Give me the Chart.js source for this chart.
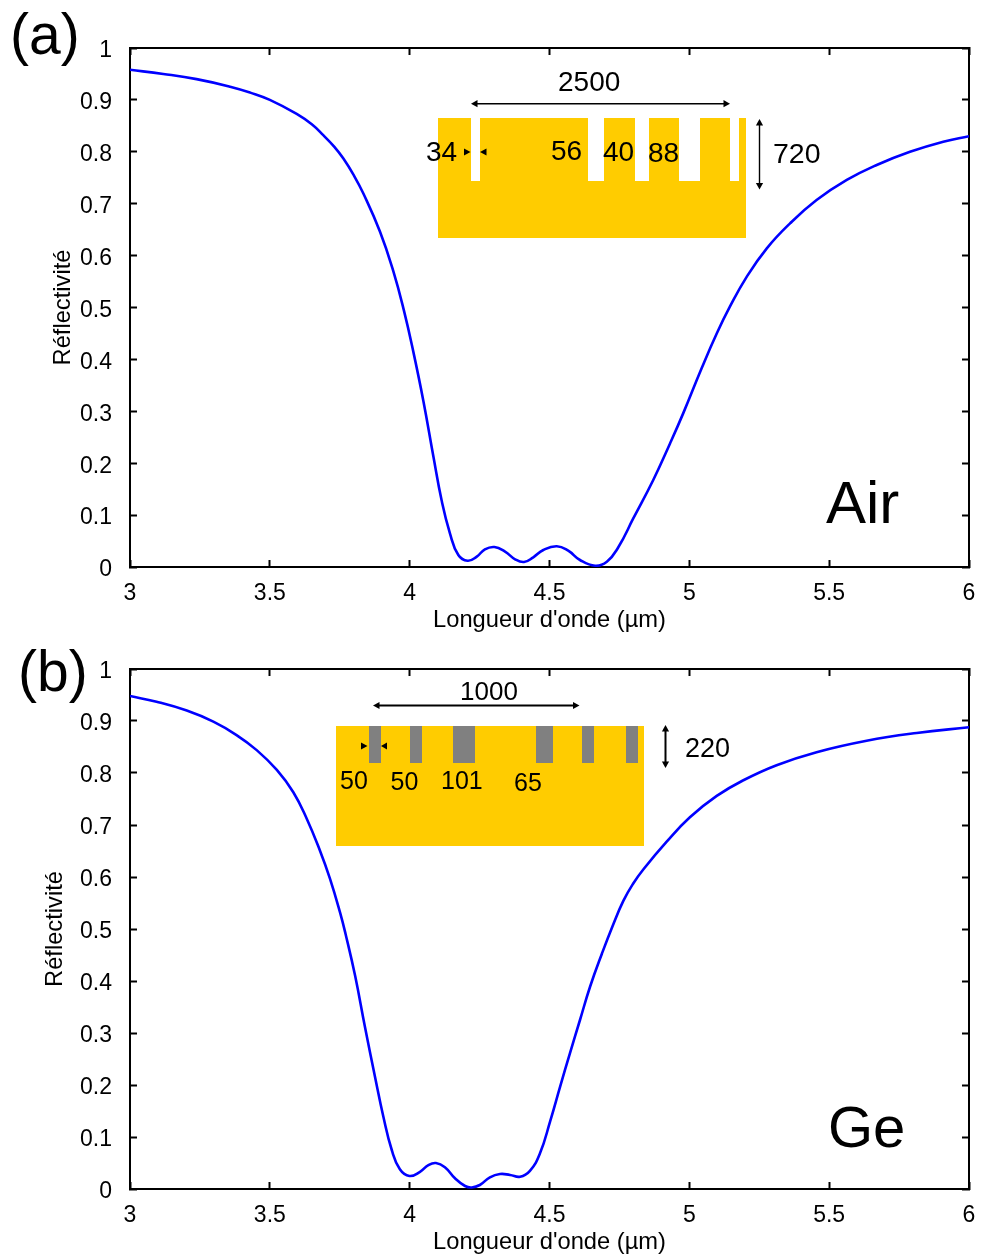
<!DOCTYPE html>
<html><head><meta charset="utf-8">
<style>html,body{margin:0;padding:0;background:#fff}canvas{position:absolute;left:0;display:block}</style>
<script src="https://cdn.jsdelivr.net/npm/chart.js@4"></script></head>
<body>
<canvas id="a" width="981" height="640" style="top:0"></canvas>
<canvas id="b" width="981" height="617" style="top:640px"></canvas>
<script>
const xTickValues=[3,3.5,4,4.5,5,5.5,6];
const xAxisTitle="Longueur d'onde (µm)";
const yAxisTitle="Réflectivité";
const xAir=[3,3.119,3.238,3.358,3.43,3.5,3.596,3.65,3.691,3.73,3.763,3.8,3.834,3.894,3.941,3.98,4.013,4.049,4.085,4.114,4.144,4.174,4.207,4.24,4.269,4.303,4.341,4.377,4.409,4.442,4.478,4.526,4.567,4.609,4.663,4.705,4.746,4.8,4.871,4.931,4.978,5.044,5.098,5.145,5.205,5.277,5.36,5.455,5.563,5.67,5.789,5.908,6];
const yAir=[.958,.95,.94,.9255,.914,.9,.873,.853,.832,.81,.787,.755,.72,.646,.571,.493,.415,.32,.2125,.129,.065,.023,.012,.02,.034,.0385,.0296,.0148,.0096,.0187,.0328,.04,.0314,.0135,.0025,.0102,.038,.094,.1676,.238,.296,.383,.45,.5015,.559,.614,.662,.707,.7457,.7746,.8,.8195,.83];
const xGe=[3,3.095,3.203,3.298,3.381,3.453,3.525,3.584,3.632,3.679,3.715,3.751,3.771,3.805,3.84,3.876,3.906,3.936,3.965,3.999,4.037,4.067,4.094,4.126,4.162,4.198,4.222,4.251,4.287,4.323,4.359,4.395,4.43,4.466,4.502,4.538,4.573,4.609,4.645,4.687,4.725,4.764,4.8,4.836,4.919,5.002,5.098,5.193,5.312,5.455,5.634,5.813,6];
const yGe=[.948,.937,.92,.8987,.873,.844,.806,.763,.712,.651,.597,.532,.49,.41,.312,.216,.139,.075,.038,.025,.033,.046,.05,.042,.0206,.0058,.003,.0077,.0225,.0288,.027,.0237,.035,.0686,.1295,.1967,.261,.325,.389,.452,.505,.554,.588,.615,.668,.715,.756,.786,.815,.84,.862,.877,.888];
const FONT='"Liberation Sans", Arial, sans-serif';
const TICK=23, TITLE=23.7;

function inset(cfg){return {id:'inset',afterDraw(chart){
  const c=chart.ctx;c.save();c.translate(0,-cfg.top);
  const r=cfg.rect;
  c.fillStyle='#ffcc00';c.fillRect(r[0],r[1],r[2]-r[0],r[3]-r[1]);
  c.fillStyle=cfg.slotColor;
  cfg.slots.forEach(s=>c.fillRect(s[0],r[1],s[1]-s[0],cfg.slotBottom-r[1]));
  c.strokeStyle='#000';c.fillStyle='#000';c.lineWidth=cfg.arrowWidth;
  const head=(x,y,dx,dy)=>{c.beginPath();c.moveTo(x,y);c.lineTo(x+dx*6.5+dy*3.6,y+dy*6.5+dx*3.6);c.lineTo(x+dx*6.5-dy*3.6,y+dy*6.5-dx*3.6);c.closePath();c.fill();};
  const dbl=(x1,y1,x2,y2)=>{const h=x1===x2;c.beginPath();c.moveTo(x1+(h?0:3),y1+(h?3:0));c.lineTo(x2-(h?0:3),y2-(h?3:0));c.stroke();
    head(x1,y1,h?0:1,h?1:0);head(x2,y2,h?0:-1,h?-1:0);};
  cfg.arrows.forEach(a=>dbl(...a));
  cfg.tris.forEach(t=>{c.beginPath();c.moveTo(t[0],t[1]-3.5);c.lineTo(t[0],t[1]+3.5);c.lineTo(t[2],t[1]);c.closePath();c.fill();});
  c.textAlign='left';c.textBaseline='alphabetic';
  cfg.texts.forEach(t=>{c.font=t[3]+'px '+FONT;c.fillText(t[0],t[1],t[2]);});
  c.restore();
}};}

const noPad=s=>{s.paddingLeft=s.paddingRight=s.paddingTop=s.paddingBottom=0;};
function make(id,xs,ys,geo,ins){
  const pts=xs.map((x,i)=>({x,y:ys[i]}));
  const chart=new Chart(document.getElementById(id),{
    type:'line',
    data:{datasets:[{data:pts,borderColor:'#0000ff',borderWidth:2.6,pointRadius:0,tension:.45,fill:false}]},
    plugins:[inset(ins)],
    options:{
      responsive:false,animation:false,devicePixelRatio:1,
      layout:{padding:{left:0,right:12,top:geo.top,bottom:0}},
      plugins:{legend:{display:false},tooltip:{enabled:false},title:{display:false}},
      scales:{
        x:{type:'linear',position:'bottom',min:3,max:6,
          afterBuildTicks:s=>{s.ticks=xTickValues.map(v=>({value:v}));},
          afterFit:s=>{s.height=geo.xh;noPad(s);},
          border:{color:'#000',width:2},
          grid:{drawOnChartArea:false,drawTicks:true,tickLength:-7,tickWidth:2,tickColor:'#000'},
          ticks:{color:'#000',font:{family:FONT,size:TICK},padding:20,maxRotation:0,autoSkip:false,callback:v=>String(v)},
          title:{display:true,text:xAxisTitle,color:'#000',font:{family:FONT,size:TITLE},padding:{top:0,bottom:geo.xpad}}},
        xTop:{type:'linear',position:'top',min:3,max:6,
          afterBuildTicks:s=>{s.ticks=xTickValues.map(v=>({value:v}));},
          afterFit:s=>{s.height=0;noPad(s);},
          border:{color:'#000',width:2},
          grid:{drawOnChartArea:false,drawTicks:true,tickLength:-7,tickWidth:2,tickColor:'#000'},
          ticks:{display:false}},
        y:{type:'linear',position:'left',min:0,max:1,
          afterFit:s=>{s.width=130;noPad(s);},
          border:{color:'#000',width:2},
          grid:{drawOnChartArea:false,drawTicks:true,tickLength:-7,tickWidth:2,tickColor:'#000'},
          ticks:{color:'#000',font:{family:FONT,size:TICK},padding:25,stepSize:.1,autoSkip:false,callback:v=>String(+v.toFixed(1))},
          title:{display:true,text:yAxisTitle,color:'#000',font:{family:FONT,size:TITLE},padding:{top:geo.ypad,bottom:0}}},
        yRight:{type:'linear',position:'right',min:0,max:1,
          afterFit:s=>{s.width=0;noPad(s);},
          border:{color:'#000',width:2},
          grid:{drawOnChartArea:false,drawTicks:true,tickLength:-7,tickWidth:2,tickColor:'#000'},
          ticks:{display:false,stepSize:.1}}
      }
    }
  });
  // y tick labels sit slightly below their tick marks in the reference
  const s=chart.scales.y,orig=s._computeLabelItems;
  s._computeLabelItems=function(a){const it=orig.call(this,a);it.forEach(i=>{i.options.translation[1]+=3;});return it;};
  s._labelItems=null;chart.draw();
}

make('a',xAir,yAir,{top:48,xh:73,xpad:5,ypad:49},{
  top:0,rect:[438,118,746,238],slotBottom:181,slotColor:'#ffffff',
  slots:[[471,480],[588,604],[635,649],[679,700],[730,739]],
  arrowWidth:1.4,
  arrows:[[471,103.7,730,103.7],[759.5,119,759.5,189.5]],
  tris:[[464,152,470.5],[486.5,152,480]],
  texts:[['2500',558,91,28],['34',426,161,28],['56',551,160,28],['40',603,161,28],['88',648,162,28],['720',773,163,28.5],
         ['(a)',10,54,57],['Air',826,523,60]]
});
make('b',xGe,yGe,{top:29,xh:68,xpad:0,ypad:41},{
  top:640,rect:[336,726,644,846],slotBottom:763,slotColor:'#808080',
  slots:[[369,381],[410,422],[453,475],[536,553],[582,594],[626,638]],
  arrowWidth:2,
  arrows:[[373,705.5,579.5,705.5],[665.5,725,665.5,768]],
  tris:[[361,746,367.5],[387,746,381]],
  texts:[['1000',460,700,26],['50',340,789,25],['50',390.5,790,25],['101',441,789,25],['65',514,791,25],['220',685,757,27],
         ['(b)',18,691,57],['Ge',828,1147,58]]
});
</script>
</body></html>
